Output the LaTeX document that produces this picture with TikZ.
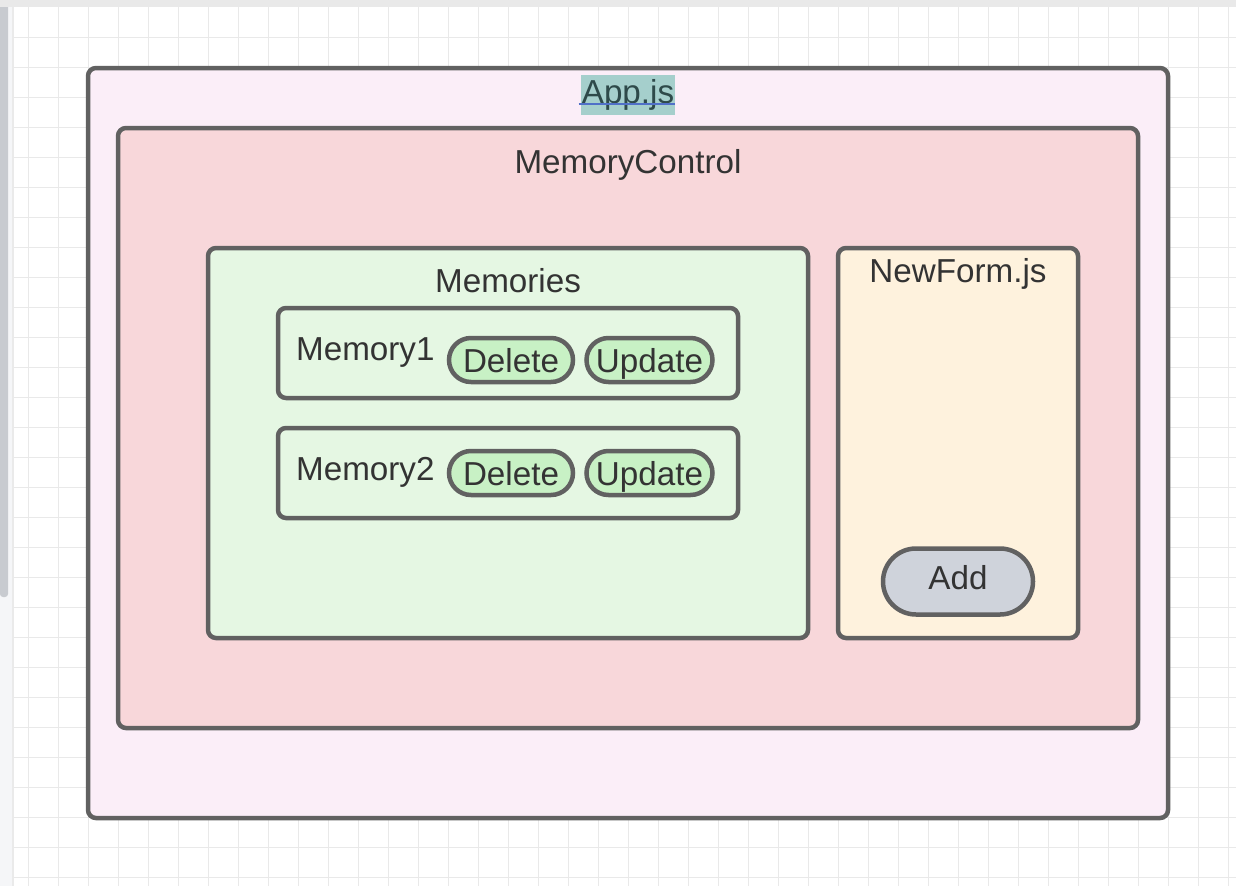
\documentclass[tikz,border=0pt]{standalone}
\usepackage{fontspec}
\setmainfont{Liberation Sans}
\usetikzlibrary{positioning,shapes.misc}

\definecolor{edgegray}{HTML}{616161}
\definecolor{textgray}{HTML}{333333}
\definecolor{appfill}{HTML}{FBEEF8}
\definecolor{ctrlfill}{HTML}{F8D7DA}
\definecolor{memfill}{HTML}{E5F7E3}
\definecolor{btnfill}{HTML}{C8F1C5}
\definecolor{formfill}{HTML}{FEF2DD}
\definecolor{addfill}{HTML}{CFD3DB}
\definecolor{hlteal}{HTML}{A5CFCC}
\definecolor{hltext}{HTML}{2E4A4A}
\definecolor{ulblue}{HTML}{5070C8}
\definecolor{gridgray}{HTML}{E9E9E9}
\definecolor{panelgray}{HTML}{F5F6F8}
\definecolor{barGray}{HTML}{C8CBD0}

\begin{document}
\begin{tikzpicture}[x=1pt, y=-1pt,
    every node/.style={font=\fontsize{33.2}{40}\selectfont, text=textgray},
    box/.style={draw=edgegray, line width=4.5pt, rounded corners=8pt, inner sep=0pt, outer sep=0pt, anchor=north west},
    pill/.style={rounded rectangle, draw=edgegray, line width=4.5pt, inner sep=0pt, text height=24pt, text depth=0pt},
    lbl/.style={anchor=base, inner sep=0pt},
    gridline/.style={draw=gridgray, line width=1pt}]
    \useasboundingbox (0,0) rectangle (1236,886);
    \fill[white] (0,0) rectangle (1236,886);

    % canvas grid
    \foreach \gx in {28,58,...,1228} \draw[gridline] (\gx,7) -- (\gx,886);
    \foreach \gy in {37,67,...,877} \draw[gridline] (13,\gy) -- (1236,\gy);

    % editor frame
    \fill[panelgray] (0,0) rectangle (13,886);
    \fill[barGray, rounded corners=3pt] (0,-5) rectangle (8,597);
    \draw[gridgray!80!black!30!white, line width=1.5pt] (13,7) -- (13,886);
    \fill[gridgray] (0,0) rectangle (1236,7);

    % components
    \node[box, fill=appfill, minimum width=1080pt, minimum height=750pt] (app) at (88,68) {};
    \node[box, fill=ctrlfill, minimum width=1020pt, minimum height=600pt] (ctrl) at (118,128) {};
    \node[box, fill=memfill, minimum width=600pt, minimum height=390pt] (mems) at (208,248) {};
    \node[box, fill=memfill, minimum width=460pt, minimum height=90pt] (mem1) at (278,308) {};
    \node[box, fill=memfill, minimum width=460pt, minimum height=90pt] (mem2) at (278,428) {};
    \node[box, fill=formfill, minimum width=240pt, minimum height=390pt] (form) at (838,248) {};

    \node[lbl, fill=hlteal, text=hltext, inner xsep=1pt, inner ysep=5pt, text height=23pt, text depth=7pt] (appLabel) at (628,103) {App.js};
    \draw[ulblue, line width=2pt] (appLabel.base west) ++(-2,1) -- ++(96,0);
    \node[lbl] (ctrlLabel) at (628,173) {MemoryControl};
    \node[lbl] (memsLabel) at (508,292) {Memories};
    \node[lbl, anchor=base west] (mem1Label) at (296,360) {Memory1};
    \node[lbl, anchor=base west] (mem2Label) at (296,480) {Memory2};
    \node[lbl] (formLabel) at (958,282) {NewForm.js};

    % buttons
    \node[pill, fill=btnfill, minimum width=124pt, minimum height=44pt] (del1) at (511,360) {Delete};
    \node[pill, fill=btnfill, minimum width=126pt, minimum height=44pt] (upd1) at (649.5,360) {Update};
    \node[pill, fill=btnfill, minimum width=124pt, minimum height=44pt] (del2) at (511,473) {Delete};
    \node[pill, fill=btnfill, minimum width=126pt, minimum height=44pt] (upd2) at (649.5,473) {Update};
    \node[pill, fill=addfill, text depth=8pt, minimum width=150pt, minimum height=66pt] (add) at (958,581.5) {Add};
\end{tikzpicture}
\end{document}
